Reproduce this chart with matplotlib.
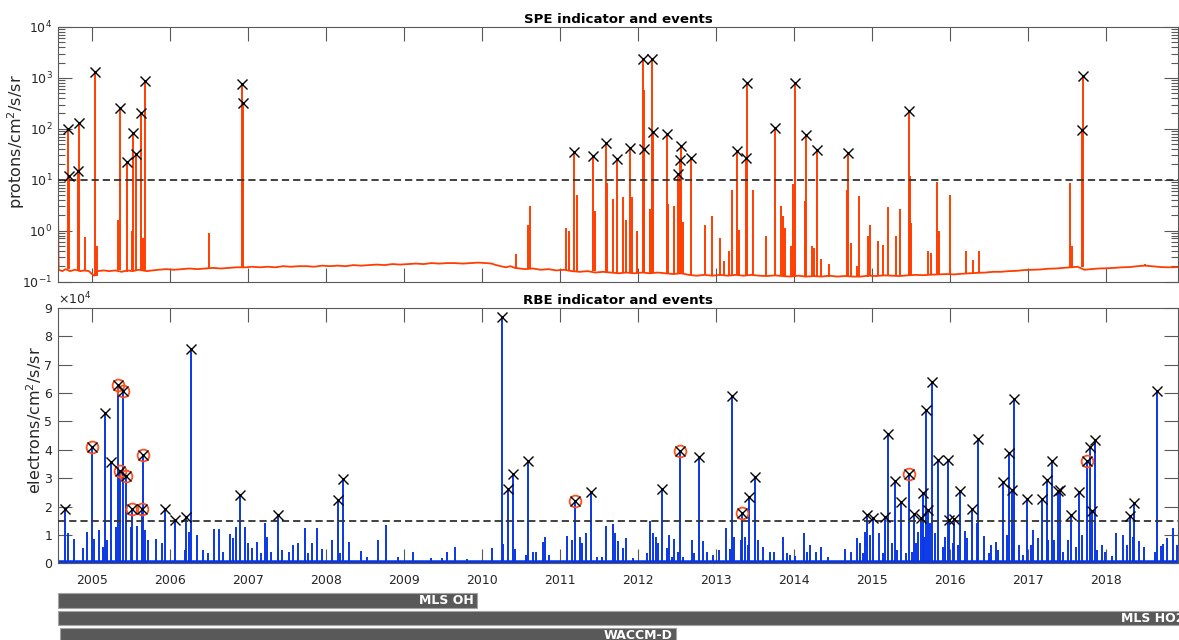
import numpy as np
import matplotlib
matplotlib.use("Agg")
import matplotlib.pyplot as plt
from matplotlib.ticker import FixedLocator, FuncFormatter, LogLocator, NullFormatter

plt.rcParams["font.family"] = ["DejaVu Sans"]

# ---------------------------------------------------------------- data
# decimal-year time axis
x_start, x_end = 2004.564, 2018.918
year_ticks = list(range(2005, 2019))

# SPE indicator: quiet-time background level
spe_base_year = [
    2004.565, 2004.572, 2004.62, 2004.66, 2004.72, 2004.78, 2004.85, 2004.9, 2004.96,
    2005.0, 2005.03, 2005.07, 2005.15, 2005.22, 2005.3, 2005.38, 2005.45, 2005.52,
    2005.6, 2005.7, 2005.78, 2005.85, 2005.95, 2006.05, 2006.15, 2006.25, 2006.35,
    2006.45, 2006.55, 2006.65, 2006.75, 2006.85, 2006.97, 2007.05, 2007.15, 2007.25,
    2007.35, 2007.45, 2007.55, 2007.65, 2007.75, 2007.85, 2007.95, 2008.05, 2008.15,
    2008.25, 2008.35, 2008.45, 2008.55, 2008.65, 2008.75, 2008.85, 2008.95, 2009.05,
    2009.15, 2009.25, 2009.35, 2009.45, 2009.55, 2009.65, 2009.75, 2009.85, 2009.95,
    2010.05, 2010.12, 2010.18, 2010.24, 2010.3, 2010.36, 2010.42, 2010.48, 2010.55,
    2010.65, 2010.75, 2010.85, 2010.95, 2011.05, 2011.15, 2011.25, 2011.35, 2011.45,
    2011.55, 2011.65, 2011.75, 2011.85, 2011.95, 2012.05, 2012.15, 2012.25, 2012.35,
    2012.45, 2012.55, 2012.65, 2012.75, 2012.85, 2012.95, 2013.05, 2013.15, 2013.25,
    2013.35, 2013.45, 2013.55, 2013.65, 2013.75, 2013.85, 2013.95, 2014.05, 2014.15,
    2014.25, 2014.35, 2014.45, 2014.55, 2014.65, 2014.75, 2014.85, 2014.95, 2015.05,
    2015.15, 2015.25, 2015.35, 2015.45, 2015.55, 2015.65, 2015.75, 2015.85, 2015.95,
    2016.05, 2016.15, 2016.25, 2016.35, 2016.45, 2016.55, 2016.65, 2016.75, 2016.85,
    2016.95, 2017.05, 2017.15, 2017.25, 2017.35, 2017.45, 2017.55, 2017.63, 2017.72,
    2017.8, 2017.9, 2018.0, 2018.1, 2018.2, 2018.3, 2018.4, 2018.5, 2018.6, 2018.7,
    2018.8, 2018.918,
]
spe_base_flux = [
    2.0, 0.17, 0.16, 0.175, 0.16, 0.17, 0.16, 0.165, 0.16,
    0.14, 0.13, 0.16, 0.165, 0.16, 0.165, 0.155, 0.165, 0.16,
    0.17, 0.16, 0.165, 0.17, 0.175, 0.17, 0.175, 0.18, 0.175,
    0.18, 0.185, 0.18, 0.185, 0.19, 0.19, 0.195, 0.19, 0.195,
    0.19, 0.2, 0.195, 0.2, 0.2, 0.195, 0.205, 0.2, 0.205,
    0.2, 0.21, 0.205, 0.21, 0.215, 0.21, 0.22, 0.215, 0.22,
    0.225, 0.22, 0.23, 0.225, 0.23, 0.23, 0.225, 0.23, 0.235,
    0.23, 0.225, 0.21, 0.2, 0.19, 0.2, 0.185, 0.18, 0.175,
    0.18, 0.17, 0.175, 0.165, 0.17, 0.16, 0.155, 0.16, 0.15,
    0.155, 0.15, 0.145, 0.15, 0.145, 0.15, 0.145, 0.15, 0.145,
    0.14, 0.145, 0.135, 0.13, 0.135, 0.13, 0.135, 0.13, 0.135,
    0.13, 0.135, 0.13, 0.128, 0.132, 0.128, 0.125, 0.13, 0.125,
    0.128, 0.125, 0.13, 0.125, 0.128, 0.125, 0.125, 0.13, 0.128,
    0.132, 0.13, 0.128, 0.132, 0.135, 0.133, 0.136, 0.138, 0.14,
    0.138, 0.142, 0.145, 0.148, 0.15, 0.155, 0.155, 0.16, 0.162,
    0.168, 0.17, 0.172, 0.178, 0.18, 0.185, 0.19, 0.195, 0.17,
    0.175, 0.18, 0.182, 0.185, 0.19, 0.192, 0.2, 0.205, 0.198, 0.192,
    0.19, 0.192,
]

# SPE indicator: short enhancements that stay below the event threshold
spe_spike_year = [
    2004.91, 2005.06, 2005.337, 2005.509, 2005.657, 2006.5, 2010.434, 2010.584,
    2010.609, 2011.071, 2011.117, 2011.212, 2011.442, 2011.596, 2011.673, 2011.801,
    2011.844, 2011.924, 2011.981, 2012.079, 2012.151, 2012.386, 2012.459, 2012.57,
    2012.856, 2012.95, 2013.048, 2013.1, 2013.163, 2013.198, 2013.295, 2013.475,
    2013.638, 2013.826, 2013.852, 2013.881, 2013.954, 2013.988, 2014.138, 2014.228,
    2014.257, 2014.347, 2014.445, 2014.672, 2014.723, 2014.804, 2014.833, 2014.949,
    2014.971, 2015.077, 2015.141, 2015.197, 2015.308, 2015.355, 2015.483, 2015.496,
    2015.718, 2015.749, 2015.825, 2015.859, 2015.996, 2016.201, 2016.294, 2016.367,
    2017.533, 2017.563, 2018.495,
]
spe_spike_flux = [
    0.76, 0.5, 1.6, 1.0, 0.7, 0.9, 0.35, 1.3,
    3.0, 1.15, 1.0, 5.0, 2.4, 8.7, 4.1, 4.5,
    1.6, 4.6, 1.0, 575, 2.7, 3.3, 3.1, 1.5,
    1.3, 1.9, 0.7, 0.25, 0.4, 6.2, 1.05, 6.2,
    0.77, 3.0, 1.9, 1.15, 0.5, 8.1, 3.8, 0.5,
    0.45, 0.28, 0.22, 6.4, 0.57, 0.2, 4.8, 0.8,
    1.3, 0.63, 0.53, 2.9, 0.8, 2.6, 12.0, 1.4,
    0.4, 0.36, 9.0, 1.0, 5.1, 0.4, 0.27, 0.4,
    8.7, 0.5, 0.22,
]

# SPE events (marked with crosses)
spe_event_year = [
    2004.689, 2004.705, 2004.824, 2004.837, 2005.038, 2005.359, 2005.445, 2005.521,
    2005.564, 2005.628, 2005.683, 2006.926, 2006.939, 2011.173, 2011.425, 2011.587,
    2011.728, 2011.895, 2012.062, 2012.07, 2012.18, 2012.193, 2012.365, 2012.514,
    2012.536, 2012.544, 2012.672, 2013.27, 2013.377, 2013.394, 2013.749, 2014.013,
    2014.154, 2014.295, 2014.692, 2015.47, 2017.683, 2017.696,
]
spe_event_flux = [
    99, 11.8, 15, 128, 1294, 258, 22, 84,
    32, 200, 861, 776, 315, 34.5, 29, 53,
    25.5, 42, 2400, 40, 2326, 86, 78, 13,
    24, 46, 27, 37, 26.6, 798, 103, 798,
    74, 37.7, 33.4, 222, 93, 1094,
]
spe_threshold = 10

# RBE indicator: enhancements below the event threshold
rbe_spike_year = [
    2004.696, 2004.769, 2004.881, 2004.936, 2005.029, 2005.094, 2005.137, 2005.196,
    2005.308, 2005.5, 2005.573, 2005.679, 2005.722, 2005.824, 2005.901, 2006.192,
    2006.247, 2006.342, 2006.426, 2006.49, 2006.567, 2006.624, 2006.683, 2006.769,
    2006.811, 2006.845, 2006.961, 2007.003, 2007.047, 2007.111, 2007.162, 2007.217,
    2007.239, 2007.29, 2007.384, 2007.431, 2007.525, 2007.58, 2007.644, 2007.73,
    2007.772, 2007.816, 2007.88, 2007.944, 2008.072, 2008.178, 2008.297, 2008.444,
    2008.52, 2008.669, 2008.768, 2008.925, 2009.118, 2009.341, 2009.482, 2009.546,
    2009.652, 2009.802, 2010.122, 2010.271, 2010.421, 2010.562, 2010.648, 2010.686,
    2010.776, 2010.805, 2010.857, 2011.084, 2011.155, 2011.254, 2011.276, 2011.327,
    2011.468, 2011.532, 2011.587, 2011.681, 2011.703, 2011.737, 2011.801, 2011.844,
    2011.937, 2012.109, 2012.151, 2012.193, 2012.224, 2012.257, 2012.365, 2012.398,
    2012.429, 2012.459, 2012.506, 2012.578, 2012.686, 2012.719, 2012.834, 2012.878,
    2012.962, 2013.039, 2013.125, 2013.176, 2013.231, 2013.313, 2013.369, 2013.403,
    2013.539, 2013.603, 2013.689, 2013.74, 2013.852, 2013.903, 2013.945, 2014.009,
    2014.128, 2014.159, 2014.201, 2014.279, 2014.343, 2014.436, 2014.65, 2014.723,
    2014.8, 2014.842, 2014.877, 2014.906, 2014.97, 2015.09, 2015.141, 2015.249,
    2015.321, 2015.432, 2015.505, 2015.556, 2015.59, 2015.663, 2015.74, 2015.804,
    2015.91, 2015.932, 2016.038, 2016.102, 2016.188, 2016.209, 2016.338, 2016.431,
    2016.499, 2016.517, 2016.585, 2016.615, 2016.722, 2016.807, 2016.884, 2016.935,
    2017.034, 2017.063, 2017.128, 2017.255, 2017.329, 2017.448, 2017.512, 2017.607,
    2017.684, 2017.876, 2017.94, 2017.982, 2018.068, 2018.123, 2018.217, 2018.268,
    2018.345, 2018.422, 2018.483, 2018.624, 2018.696, 2018.73, 2018.773, 2018.85,
    2018.901,
]
rbe_spike_flux = [
    10800, 8580, 5300, 11000, 8580, 11570, 5850, 8230,
    12870, 12870, 13000, 11570, 8230, 8470, 7050, 4700,
    11000, 10000, 4700, 3530, 12000, 12000, 4120, 10200,
    8820, 12940, 12940, 7060, 5300, 7650, 3530, 14120,
    9420, 4120, 5880, 4700, 3880, 6470, 7060, 12350,
    3530, 7060, 12350, 4940, 8230, 3530, 7420, 4470,
    2350, 8230, 13530, 2350, 3880, 1760, 1760, 4120,
    5880, 1410, 5300, 6820, 4940, 2940, 3880, 3880,
    7420, 9180, 2940, 9650, 8230, 9180, 7060, 10590,
    2350, 2350, 13290, 13760, 10590, 7880, 5300, 9060,
    1760, 3530, 14940, 10590, 9420, 7060, 5300, 10000,
    2350, 8470, 4120, 2350, 8230, 3530, 8000, 4120,
    2940, 4700, 12350, 4940, 9420, 8230, 9420, 6470,
    8230, 5880, 3880, 4120, 9180, 3530, 2940, 2700,
    10590, 4120, 6470, 4120, 5650, 2350, 4940, 4120,
    8820, 7060, 3530, 11180, 10000, 10590, 3530, 7060,
    4700, 3530, 4120, 7060, 11180, 9420, 14120, 10590,
    5880, 9420, 7060, 6470, 11530, 8820, 14120, 9760,
    3530, 6470, 7650, 4700, 10000, 5880, 6470, 2940,
    6470, 11760, 8820, 8230, 8230, 3880, 8230, 5880,
    10000, 4700, 6470, 4120, 2700, 10590, 10000, 6470,
    9420, 8000, 5880, 4120, 6120, 6820, 8820, 12350,
    6470,
]

# RBE events (crosses); circled = event flagged together with an SPE
rbe_event_year = [
    2004.654, 2004.996, 2005.167, 2005.243, 2005.337, 2005.363, 2005.401, 2005.432,
    2005.513, 2005.645, 2005.654, 2005.936, 2006.064, 2006.205, 2006.269, 2006.9,
    2007.38, 2008.149, 2008.22, 2010.254, 2010.327, 2010.399, 2010.584, 2011.186,
    2011.399, 2012.309, 2012.536, 2012.779, 2013.202, 2013.326, 2013.424, 2013.493,
    2014.936, 2015.013, 2015.163, 2015.205, 2015.291, 2015.364, 2015.474, 2015.534,
    2015.624, 2015.654, 2015.688, 2015.718, 2015.769, 2015.842, 2015.966, 2015.987,
    2016.051, 2016.124, 2016.282, 2016.355, 2016.671, 2016.748, 2016.786, 2016.82,
    2016.979, 2017.171, 2017.235, 2017.307, 2017.384, 2017.405, 2017.542, 2017.649,
    2017.747, 2017.79, 2017.811, 2017.854, 2018.302, 2018.354, 2018.652,
]
rbe_event_flux = [
    19270, 40940, 53150, 35640, 62680, 32570, 60910, 30810,
    19060, 19060, 38330, 19060, 15280, 16450, 75630, 24000,
    16940, 22340, 29640, 86670, 26220, 31410, 36210, 22090,
    25270, 26110, 39630, 37400, 59040, 17650, 23500, 30560,
    17050, 15990, 16230, 45630, 29150, 21630, 31510, 17400,
    16090, 24700, 54100, 18810, 63980, 36450, 36450, 15280,
    15740, 25620, 19160, 43760, 28580, 38820, 25870, 57980,
    22590, 22590, 29400, 36210, 25510, 25870, 17050, 25060,
    36210, 40940, 18560, 43510, 16800, 21170, 60910,
]
rbe_event_circled = [
    0, 1, 0, 0, 1, 1, 1, 1,
    1, 1, 1, 0, 0, 0, 0, 0,
    0, 0, 0, 0, 0, 0, 0, 1,
    0, 0, 1, 0, 0, 1, 0, 0,
    0, 0, 0, 0, 0, 0, 1, 0,
    0, 0, 0, 0, 0, 0, 0, 0,
    0, 0, 0, 0, 0, 0, 0, 0,
    0, 0, 0, 0, 0, 0, 0, 0,
    1, 0, 0, 0, 0, 0, 0,
]
rbe_threshold = 15000

# data coverage periods
bar_names = ["MLS OH", "MLS HO2", "WACCM-D"]
bar_start = [2004.565, 2004.565, 2004.59]
bar_end = [2009.94, 2019.04, 2012.49]

# ---------------------------------------------------------------- styling
SPE_C = "#ff3d00"
RBE_C = "#0a37e6"
RING_C = "#ff5020"
AX_C = "#595959"
TXT_C = "#262626"

W, H = 1179, 640
fig = plt.figure(figsize=(W / 100, H / 100), dpi=100)


def frame(left, top, right, bottom):
    return [left / W, 1 - bottom / H, (right - left) / W, (bottom - top) / H]


ax1 = fig.add_axes(frame(58, 27, 1178, 281.5))
ax2 = fig.add_axes(frame(58, 308, 1178, 563.3))
axb = fig.add_axes(frame(58, 590, 1178, 640))

# ---------------------------------------------------------------- SPE panel
bx = np.asarray(spe_base_year)
bf = np.asarray(spe_base_flux)


def background_at(years):
    idx = np.clip(np.searchsorted(bx, years) - 1, 0, len(bx) - 1)
    return bf[idx]


ax1.plot(spe_base_year, spe_base_flux, color=SPE_C, lw=1.3, zorder=2)
sp_y = np.concatenate([spe_spike_year, spe_event_year])
sp_f = np.concatenate([spe_spike_flux, spe_event_flux])
ax1.vlines(sp_y, background_at(sp_y), sp_f, color=SPE_C, lw=1.4, zorder=2)
ax1.axhline(spe_threshold, color="#333333", lw=1.3, ls=(0, (4, 2.2)), zorder=3)
ax1.plot(spe_event_year, spe_event_flux, "x", color="black", ms=7, mew=1.0, zorder=4)

ax1.set_yscale("log")
ax1.set_ylim(0.1, 1e4)
ax1.yaxis.set_minor_locator(LogLocator(base=10, subs=np.arange(2, 10)))
ax1.yaxis.set_minor_formatter(NullFormatter())
ax1.set_title("SPE indicator and events", fontsize=9.6, fontweight="bold", pad=3)
ax1.set_ylabel("protons/cm$^2$/s/sr", fontsize=11.5, color=TXT_C)
ax1.yaxis.set_label_coords(-0.0275, 0.55)

# ---------------------------------------------------------------- RBE panel
rb_y = np.concatenate([rbe_spike_year, rbe_event_year])
rb_f = np.concatenate([rbe_spike_flux, rbe_event_flux])
ax2.axhline(0, color=RBE_C, lw=4, zorder=2)
ax2.vlines(rb_y, 0, rb_f, color=RBE_C, lw=1.4, zorder=2)
ax2.axhline(rbe_threshold, color="#333333", lw=1.3, ls=(0, (4, 2.2)), zorder=3)
ring = np.asarray(rbe_event_circled, dtype=bool)
ax2.plot(np.asarray(rbe_event_year)[ring], np.asarray(rbe_event_flux)[ring], "o",
         ms=8.5, mfc="none", mec=RING_C, mew=1.3, zorder=4)
ax2.plot(rbe_event_year, rbe_event_flux, "x", color="black", ms=7, mew=1.0, zorder=5)

ax2.set_ylim(0, 9e4)
ax2.yaxis.set_major_locator(FixedLocator(np.arange(0, 90001, 10000)))
ax2.yaxis.set_major_formatter(FuncFormatter(lambda v, _: f"{v / 1e4:g}"))
ax2.text(0.0, 1.004, r"$\times10^{4}$", transform=ax2.transAxes, ha="left", va="bottom",
         fontsize=9, color=TXT_C)
ax2.set_title("RBE indicator and events", fontsize=9.6, fontweight="bold", pad=3)
ax2.set_ylabel("electrons/cm$^2$/s/sr", fontsize=11.5, color=TXT_C)
ax2.yaxis.set_label_coords(-0.0125, 0.56)

# ---------------------------------------------------------------- shared axis styling
for ax in (ax1, ax2):
    ax.set_xlim(x_start, x_end)
    ax.xaxis.set_major_locator(FixedLocator(year_ticks))
    ax.xaxis.set_major_formatter(FuncFormatter(lambda v, _: f"{int(round(v))}"))
    ax.tick_params(which="both", direction="in", top=True, right=True,
                   color=AX_C, labelcolor=TXT_C, labelsize=9, width=0.8)
    ax.tick_params(which="major", length=10)
    ax.tick_params(which="minor", length=5)
    ax.tick_params(axis="x", pad=8)
    ax.tick_params(axis="y", pad=4)
    for s in ax.spines.values():
        s.set_color(AX_C)
        s.set_linewidth(0.8)
ax1.tick_params(axis="x", labelbottom=False)

# ---------------------------------------------------------------- coverage bars
axb.set_xlim(x_start, x_end)
axb.set_ylim(50, 0)
axb.axis("off")
for i, (name, s, e) in enumerate(zip(bar_names, bar_start, bar_end)):
    yc = 10.5 + 17.5 * i
    axb.barh(yc, e - s, left=s, height=14.4, color="#595959", edgecolor="#a3a3a3",
             lw=0.8, clip_on=False)
    axb.annotate(name, (e, yc), xytext=(-2.5, 0), textcoords="offset points",
                 ha="right", va="center", color="white", fontweight="bold",
                 fontsize=9, annotation_clip=False)

fig.savefig("out.png", dpi=100)
